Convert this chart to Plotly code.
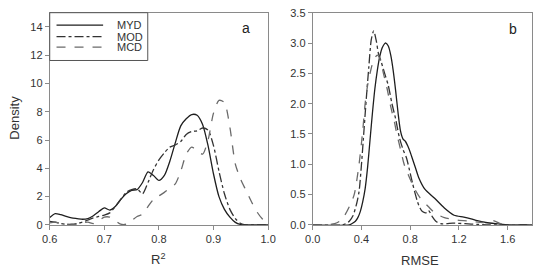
import plotly.graph_objects as go

W, H = 543, 273

# ---------- Panel a: R^2 densities ----------
r2_x = [0.60, 0.61, 0.62, 0.63, 0.64, 0.65, 0.66, 0.67, 0.68, 0.69,
        0.70, 0.71, 0.72, 0.73, 0.74, 0.75, 0.76, 0.77, 0.78, 0.79,
        0.80, 0.81, 0.82, 0.83, 0.84, 0.85, 0.86, 0.87, 0.88, 0.89,
        0.90, 0.91, 0.92, 0.93, 0.94, 0.95, 0.96, 0.97, 0.98, 0.99, 1.00]
myd_r2 = [0.52, 0.80, 0.72, 0.60, 0.50, 0.45, 0.40, 0.45, 0.65, 0.95,
          1.20, 1.05, 1.30, 1.80, 2.20, 2.45, 2.50, 3.00, 3.75, 3.50,
          3.15, 3.50, 4.50, 5.80, 7.00, 7.50, 7.80, 7.75, 7.10, 5.60,
          3.60, 2.00, 1.10, 0.55, 0.18, 0.03, 0.00, 0.00, 0.00, 0.00, 0.00]
mod_r2 = [0.25, 0.20, 0.10, 0.05, 0.05, 0.10, 0.20, 0.35, 0.50, 0.60,
          0.70, 0.85, 1.30, 1.80, 2.30, 2.50, 2.55, 2.20, 3.00, 3.90,
          4.60, 5.10, 5.50, 5.65, 5.90, 6.40, 6.60, 6.65, 6.85, 6.70,
          5.60, 3.80, 2.20, 1.10, 0.45, 0.10, 0.01, 0.00, 0.00, 0.00, 0.00]
mcd_r2 = [0.15, 0.20, 0.10, 0.02, 0.00, 0.05, 0.15, 0.20, 0.10, 0.30,
          0.55, 0.55, 0.30, 0.05, 0.05, 0.30, 0.60, 0.75, 1.30, 1.80,
          2.05, 2.30, 2.60, 2.90, 3.80, 5.00, 5.50, 5.25, 5.00, 6.00,
          7.90, 8.80, 8.65, 6.90, 4.30, 3.20, 2.40, 1.60, 0.90, 0.40, 0.05]

# ---------- Panel b: RMSE densities ----------
myd_rmse_x = [0.00, 0.30, 0.32, 0.35, 0.37, 0.39, 0.41, 0.43, 0.45, 0.47,
              0.49, 0.51, 0.53, 0.55, 0.57, 0.59, 0.60, 0.62, 0.64, 0.66,
              0.68, 0.70, 0.72, 0.74, 0.76, 0.78, 0.80, 0.82, 0.84, 0.87,
              0.92, 1.00, 1.08, 1.16, 1.24, 1.30, 1.35, 1.42, 1.50, 1.58,
              1.62, 1.80]
myd_rmse = [0.00, 0.00, 0.02, 0.06, 0.12, 0.22, 0.38, 0.60, 0.95, 1.40,
            1.85, 2.25, 2.55, 2.78, 2.92, 2.99, 3.00, 2.95, 2.80, 2.55,
            2.22, 1.85, 1.55, 1.42, 1.38, 1.30, 1.20, 1.08, 0.96, 0.78,
            0.59, 0.44, 0.28, 0.16, 0.13, 0.10, 0.07, 0.04, 0.02, 0.005,
            0.00, 0.00]
mod_rmse_x = [0.00, 0.24, 0.27, 0.30, 0.33, 0.36, 0.38, 0.40, 0.42, 0.44,
              0.46, 0.48, 0.50, 0.52, 0.54, 0.56, 0.59, 0.62, 0.65, 0.68,
              0.71, 0.74, 0.77, 0.80, 0.82, 0.84, 0.86, 0.88, 0.90, 0.93,
              0.95, 0.98, 1.01, 1.05, 1.10, 1.15, 1.25, 1.35, 1.45, 1.80]
mod_rmse = [0.00, 0.00, 0.02, 0.06, 0.15, 0.35, 0.55, 1.00, 1.55, 2.10,
            2.60, 3.05, 3.20, 3.05, 2.82, 2.70, 2.50, 2.30, 2.00, 1.75,
            1.45, 1.25, 1.10, 0.85, 0.68, 0.52, 0.38, 0.28, 0.22, 0.20,
            0.24, 0.14, 0.06, 0.02, 0.02, 0.03, 0.02, 0.01, 0.00, 0.00]
mcd_rmse_x = [0.00, 0.11, 0.18, 0.22, 0.26, 0.30, 0.34, 0.38, 0.41, 0.43,
              0.45, 0.47, 0.50, 0.53, 0.555, 0.58, 0.61, 0.64, 0.67, 0.69,
              0.72, 0.75, 0.79, 0.835, 0.88, 0.95, 1.00, 1.08, 1.19, 1.30,
              1.40, 1.48, 1.53, 1.59, 1.80]
mcd_rmse = [0.00, 0.00, 0.02, 0.06, 0.15, 0.30, 0.50, 1.00, 1.55, 2.00,
            2.30, 2.50, 2.72, 2.80, 2.72, 2.50, 2.25, 1.95, 1.70, 1.50,
            1.25, 1.00, 0.80, 0.60, 0.45, 0.30, 0.20, 0.12, 0.08, 0.06,
            0.04, 0.07, 0.03, 0.00, 0.00]

series_names = ["MYD", "MOD", "MCD"]
styles = {"MYD": dict(color="#1e1e1e", dash="solid"),
          "MOD": dict(color="#333333", dash="dashdot"),
          "MCD": dict(color="#6a6a6a", dash="dash")}

a_ticks = [0.6, 0.7, 0.8, 0.9, 1.0]
a_yticks = [0, 2, 4, 6, 8, 10, 12, 14]
b_ticks = [0.0, 0.4, 0.8, 1.2, 1.6]
b_yticks = [0.0, 0.5, 1.0, 1.5, 2.0, 2.5, 3.0, 3.5]

fig = go.Figure()

def add(x, y, name, xa, ya):
    st = styles[name]
    fig.add_trace(go.Scatter(x=x, y=y, mode="lines", name=name, xaxis=xa, yaxis=ya,
                             line=dict(color=st["color"], dash=st["dash"], width=1.3,
                                       shape="spline", smoothing=0.7),
                             showlegend=False, hoverinfo="skip"))

add(r2_x, myd_r2, "MYD", "x", "y")
add(r2_x, mod_r2, "MOD", "x", "y")
add(r2_x, mcd_r2, "MCD", "x", "y")
add(myd_rmse_x, myd_rmse, "MYD", "x2", "y2")
add(mod_rmse_x, mod_rmse, "MOD", "x2", "y2")
add(mcd_rmse_x, mcd_rmse, "MCD", "x2", "y2")

def px(x):
    return x / W

def py(y):
    return 1 - y / H

tickfont = dict(family="Liberation Sans, Arial, sans-serif", size=11, color="#333")
axcommon = dict(showgrid=False, zeroline=False, showline=True, mirror=True,
                linecolor="#8a8a8a", linewidth=1, ticks="outside", ticklen=4,
                tickcolor="#8a8a8a", tickfont=tickfont, fixedrange=True)

ydom = [py(229), py(7)]
fig.update_layout(
    width=W, height=H, margin=dict(l=0, r=0, t=0, b=0),
    paper_bgcolor="white", plot_bgcolor="white",
    xaxis=dict(domain=[px(43), px(268)], range=[0.6, 1.0], tickvals=a_ticks,
               tickformat=".1f", anchor="y", **axcommon),
    yaxis=dict(domain=ydom, range=[0, 15], tickvals=a_yticks, anchor="x", **axcommon),
    xaxis2=dict(domain=[px(314), px(540)], range=[0, 1.8], tickvals=b_ticks,
                tickformat=".1f", anchor="y2", **axcommon),
    yaxis2=dict(domain=ydom, range=[0, 3.5], tickvals=b_yticks, tickformat=".1f",
                anchor="x2", **axcommon),
)

labfont = dict(family="Liberation Sans, Arial, sans-serif", size=13, color="#333")
ann = [
    dict(x=px(7), y=py(117), text="Density", textangle=-90, font=labfont),
    dict(x=px(155), y=py(265), text="R<sup>2</sup>", font=labfont),
    dict(x=px(425), y=py(266), text="RMSE", font=labfont),
    dict(x=px(245), y=py(23), text="a", font=dict(family="Liberation Sans, Arial", size=14, color="#222")),
    dict(x=px(520), y=py(24), text="b", font=dict(family="Liberation Sans, Arial", size=14, color="#222")),
]
shapes = [dict(type="rect", xref="paper", yref="paper", x0=px(43), x1=px(144),
               y0=py(57), y1=py(7), line=dict(color="#555", width=1), fillcolor="white", layer="above")]
for i, name in enumerate(series_names):
    yy = [20, 32, 43][i]
    st = styles[name]
    shapes.append(dict(type="line", xref="paper", yref="paper", x0=px(50), x1=px(98),
                       y0=py(yy), y1=py(yy), layer="above",
                       line=dict(color=st["color"], dash=st["dash"], width=1.3)))
    ann.append(dict(x=px(110), y=py(yy), text=name, xanchor="left",
                    font=dict(family="Liberation Sans, Arial", size=11, color="#333")))

for a in ann:
    a.update(xref="paper", yref="paper", showarrow=False)
    a.setdefault("xanchor", "center")
    a.setdefault("yanchor", "middle")
fig.update_layout(annotations=ann, shapes=shapes)

fig.write_html("out.html")
